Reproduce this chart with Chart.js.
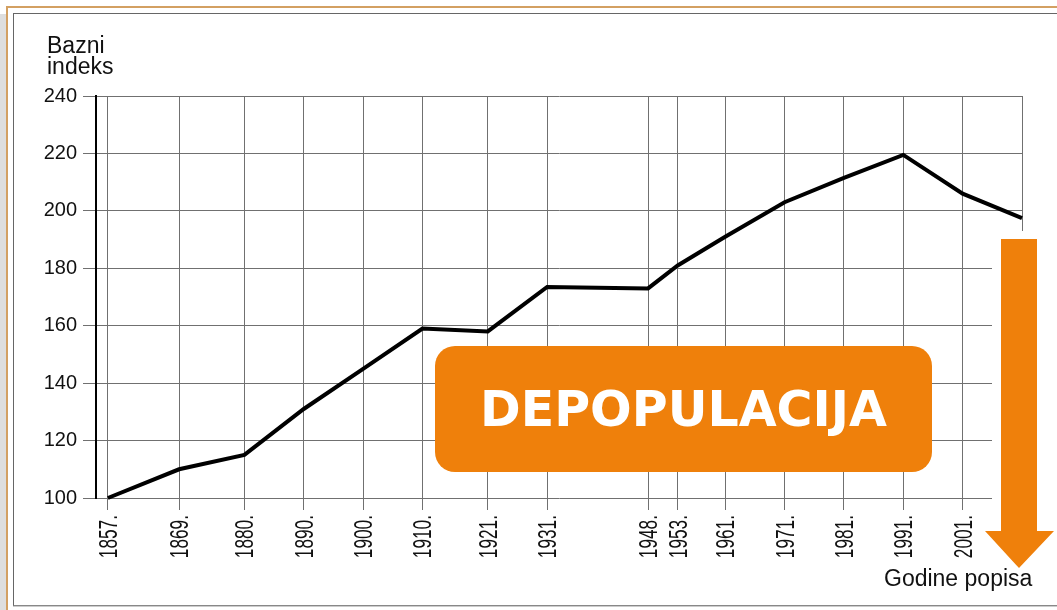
<!DOCTYPE html>
<html>
<head>
<meta charset="utf-8">
<script src="https://cdn.jsdelivr.net/npm/chart.js@4.4.0/dist/chart.umd.min.js"></script>
<style>
  html, body { margin: 0; padding: 0; background: #fff; }
  #stage { position: relative; width: 1057px; height: 610px; overflow: hidden;
           font-family: "Liberation Sans", Arial, sans-serif; color: #111; }
  .strip { position: absolute; left: 0; top: 14px; width: 6px; height: 596px; background: #dedede; }
  .gold  { position: absolute; left: 6px; top: 6px; right: 0; bottom: 0;
           border-top: 2px solid #d3a062; border-left: 2px solid #d3a062; }
  .panel { position: absolute; left: 13px; top: 13px; width: 1100px; height: 593px; box-sizing: border-box;
           border: 1px solid #666; border-bottom-color: #888; box-shadow: 0 1px 0 #ccc; }
  #chart { position: absolute; left: 0; top: 0; }
  .ytitle { position: absolute; left: 47px; top: 35px; font-size: 23px; line-height: 21px; }
  .xtitle { position: absolute; left: 884px; top: 567px; font-size: 23px; line-height: 22px; }
  .badge { position: absolute; left: 435px; top: 346px; width: 497px; height: 126px; border-radius: 20px;
           background: #ef800b; color: #fff; display: flex; align-items: center; justify-content: center;
           font: bold 49px "DejaVu Sans", Verdana, sans-serif; }
  .arrow { position: absolute; left: 0; top: 0; }
</style>
</head>
<body>
<div id="stage">
  <div class="strip"></div>
  <div class="gold"></div>
  <div class="panel"></div>
  <canvas id="chart" width="1057" height="610"></canvas>
  <div class="ytitle">Bazni<br>indeks</div>
  <svg class="arrow" width="1057" height="610">
    <rect x="992" y="231" width="65" height="334" fill="#fff"/>
    <polygon points="1001,239 1037,239 1037,531 1054,531 1019,568 985,531 1001,531" fill="#ef800b"/>
  </svg>
  <div class="xtitle">Godine popisa</div>
  <div class="badge">DEPOPULACIJA</div>
</div>
<script>
'use strict';

/* ---- data ---- */
const years   = [1857, 1869, 1880, 1890, 1900, 1910, 1921, 1931, 1948, 1953, 1961, 1971, 1981, 1991, 2001, 2011];
const indexes = [100, 110, 115, 131, 145, 159, 158, 173.5, 173, 181, 191, 203, 211.5, 219.5, 206, 197.5];
const yearLabels = years.map(y => y + '.');
const yTicks  = [100, 120, 140, 160, 180, 200, 220, 240];

const GRID = '#707070';

/* rotated, condensed census labels under the x axis */
const yearLabelPlugin = {
  id: 'yearLabels',
  afterDraw(chart) {
    const xs = chart.scales.x;
    const ctx = chart.ctx;
    ctx.save();
    ctx.font = '25px "Liberation Sans", Arial, sans-serif';
    ctx.fillStyle = '#111';
    ctx.textAlign = 'right';
    ctx.textBaseline = 'alphabetic';
    years.forEach((yr, i) => {
      const px = xs.getPixelForValue(yr);
      ctx.save();
      ctx.translate(px + 9, xs.top + 17);
      ctx.rotate(-Math.PI / 2);
      ctx.scale(0.69, 1);
      ctx.fillText(yearLabels[i], 0, 0);
      ctx.restore();
    });
    ctx.restore();
  }
};

new Chart(document.getElementById('chart'), {
  type: 'line',
  data: {
    datasets: [{
      data: years.map((x, i) => ({ x, y: indexes[i] })),
      borderColor: '#000',
      borderWidth: 4,
      pointRadius: 0,
      tension: 0,
      fill: false,
      clip: false
    }]
  },
  options: {
    responsive: false,
    animation: false,
    layout: { padding: { left: 0, right: 35, top: 96, bottom: 0 } },
    plugins: { legend: { display: false }, tooltip: { enabled: false } },
    scales: {
      x: {
        type: 'linear',
        min: 1855,
        max: 2011,
        afterBuildTicks: s => { s.ticks = years.map(v => ({ value: v })); },
        afterFit: s => { s.height = 112; },
        grid: { color: GRID, lineWidth: 1, tickLength: 12 },
        border: { display: false },
        ticks: { display: false }
      },
      y: {
        min: 100,
        max: 240,
        afterBuildTicks: s => { s.ticks = yTicks.map(v => ({ value: v })); },
        afterFit: s => { s.width = 96; },
        grid: { color: GRID, lineWidth: 1, tickLength: 13 },
        border: { display: true, color: '#000', width: 2 },
        ticks: {
          padding: 6,
          color: '#111',
          font: { family: '"Liberation Sans", Arial, sans-serif', size: 20 }
        }
      }
    }
  },
  plugins: [yearLabelPlugin]
});
</script>
</body>
</html>
